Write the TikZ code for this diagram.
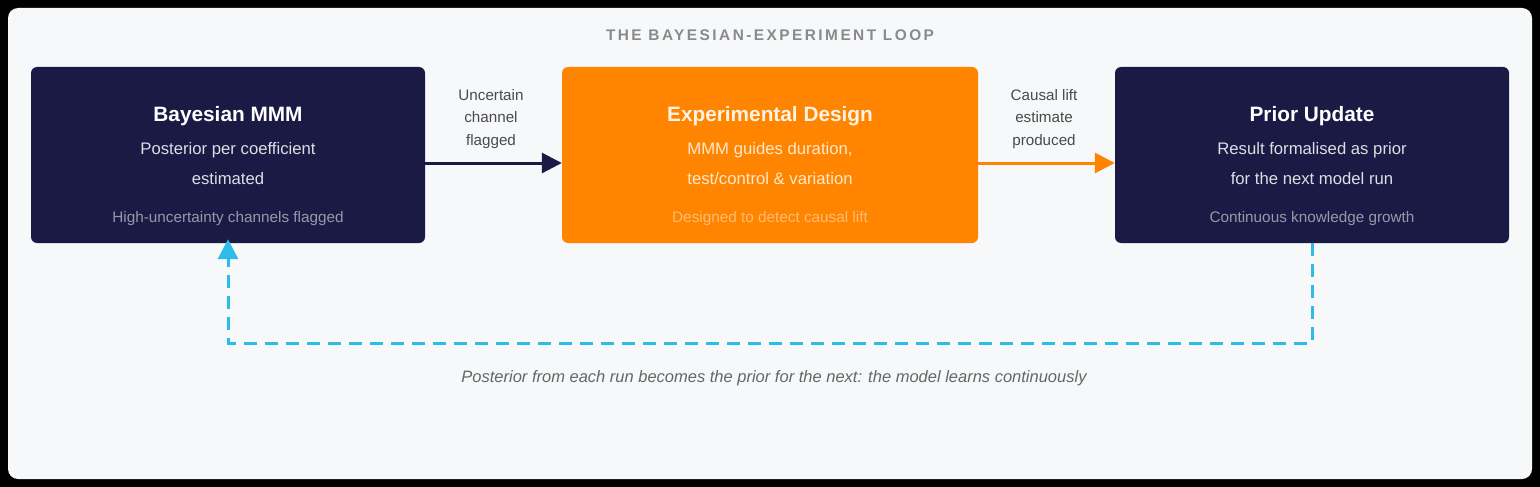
\documentclass[tikz,border=0pt]{standalone}
\usepackage{fontspec}
\setmainfont{Liberation Sans}
\newfontfamily\spacedfont[LetterSpace=16]{Liberation Sans}
\usetikzlibrary{arrows.meta,positioning}

\definecolor{navy}{HTML}{1B1A45}
\definecolor{brandorange}{HTML}{FF8500}
\definecolor{loopcyan}{HTML}{2DBBE8}
\definecolor{panelbg}{HTML}{F6F8FA}
\definecolor{labelgray}{HTML}{4A4A4A}
\definecolor{captiongray}{HTML}{666666}
\definecolor{titlegray}{HTML}{8A8A8A}

\tikzset{
    stage/.style={rounded corners=6pt, minimum height=176pt, inner sep=0pt},
    stagetitle/.style={font=\fontsize{20.8}{24}\selectfont\bfseries},
    stageline/.style={font=\fontsize{16.7}{20}\selectfont},
    stagenote/.style={font=\fontsize{15.3}{18}\selectfont},
    flowlabel/.style={font=\fontsize{15.2}{22.5}\selectfont, text=labelgray, align=center},
    flow/.style={line width=3pt, -{Triangle[length=20pt,width=20pt]}},
}

\begin{document}
\begin{tikzpicture}[x=1pt,y=-1pt]
    \useasboundingbox (0,0) rectangle (1540,487);
    \fill[black] (0,0) rectangle (1540,487);
    \fill[panelbg, rounded corners=10pt] (8,8) rectangle (1532,479);

    \node[font=\spacedfont\fontsize{15.4}{18}\selectfont\bfseries, text=titlegray] (title) at (770,35) {THE BAYESIAN-EXPERIMENT LOOP};

    % stages
    \node[stage, fill=navy, minimum width=394pt] (mmm) at (228,155) {};
    \node[stage, fill=brandorange, minimum width=416pt] (design) at (770,155) {};
    \node[stage, fill=navy, minimum width=394pt] (update) at (1312,155) {};

    \node[stagetitle, text=white] (mmmT) at (228,116) {Bayesian MMM};
    \node[stageline, text=white!85!navy] (mmmA) at (228,150) {Posterior per coefficient};
    \node[stageline, text=white!85!navy] (mmmB) at (228,179) {estimated};
    \node[stagenote, text=white!55!navy] (mmmN) at (228,219) {High-uncertainty channels flagged};

    \node[stagetitle, text=white!90!brandorange] (designT) at (770,116) {Experimental Design};
    \node[stageline, text=white!80!brandorange] (designA) at (770,150) {MMM guides duration,};
    \node[stageline, text=white!80!brandorange] (designB) at (770,179) {test/control \& variation};
    \node[stagenote, text=white!45!brandorange] (designN) at (770,219) {Designed to detect causal lift};

    \node[stagetitle, text=white] (updateT) at (1312,116) {Prior Update};
    \node[stageline, text=white!85!navy] (updateA) at (1312,150) {Result formalised as prior};
    \node[stageline, text=white!85!navy] (updateB) at (1312,179) {for the next model run};
    \node[stagenote, text=white!55!navy] (updateN) at (1312,219) {Continuous knowledge growth};

    % connectors
    \draw[flow, navy] (mmm.east |- 0,163) -- (design.west |- 0,163);
    \node[flowlabel] (flagged) at (491,119) {Uncertain\\channel\\flagged};
    \draw[flow, brandorange] (design.east |- 0,163) -- (update.west |- 0,163);
    \node[flowlabel] (lift) at (1044,119) {Causal lift\\estimate\\produced};

    % feedback loop
    \draw[loopcyan, line width=3pt, dash pattern=on 13pt off 8pt, shorten >=-4pt, -{Triangle[length=20pt,width=20pt]}]
        (update.south) -- ++(0,100) -| (mmm.south);
    \node[font=\fontsize{16.5}{20}\selectfont\itshape, text=captiongray] (caption) at (774,378)
        {Posterior from each run becomes the prior for the next: the model learns continuously};
\end{tikzpicture}
\end{document}
